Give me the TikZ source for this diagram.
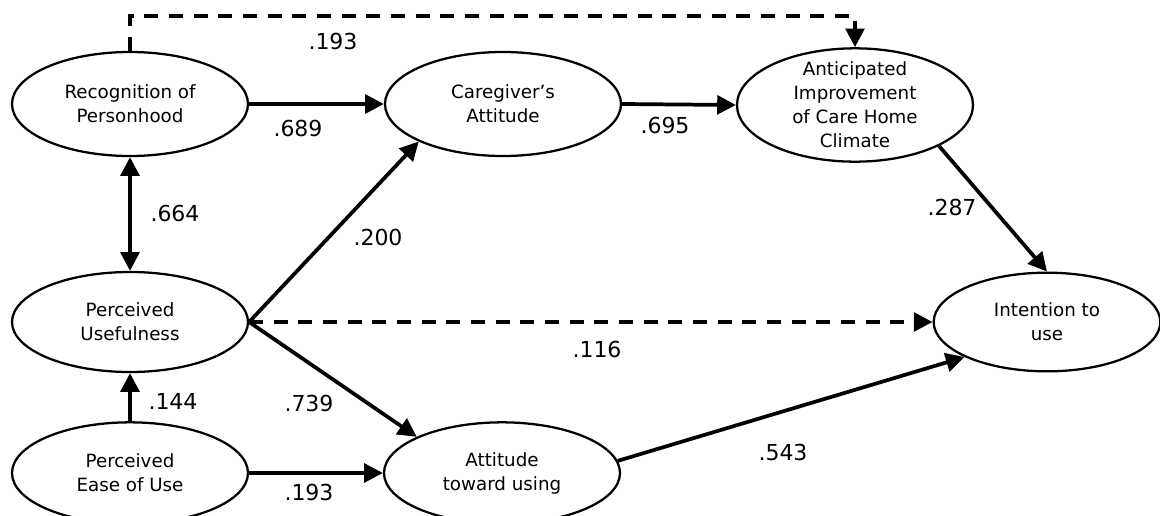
\documentclass[tikz,border=0pt]{standalone}
\usepackage{fontspec}
\setmainfont{DejaVu Sans}
\usetikzlibrary{shapes.geometric,arrows.meta}
\begin{document}
\begin{tikzpicture}[x=0.75pt,y=-0.75pt,
  ell/.style={draw,ellipse,line width=1.7pt,inner sep=0pt,minimum width=177pt,minimum height=78pt},
  txt/.style={align=center,font=\fontsize{13.7}{18}\selectfont,inner sep=0pt},
  coef/.style={font=\fontsize{16.5}{20}\selectfont,inner sep=0pt},
  tip/.tip={Triangle[length=14pt,width=14pt]},
  conn/.style={line width=2.8pt,-tip},
  dconn/.style={conn,dash pattern=on 10.5pt off 8pt}]
\useasboundingbox (0,0) rectangle (1160,515);
% nodes
\node[ell] (rec) at (130,104) {};
\node[txt] (rect) at (rec) {Recognition of\\Personhood};
\node[ell] (cg) at (503,104) {};
\node[txt] (cgt) at (cg) {Caregiver’s\\Attitude};
\node[ell,minimum height=85pt] (ant) at (855,105) {};
\node[txt] (antt) at (ant) {Anticipated\\Improvement\\of Care Home\\Climate};
\node[ell,minimum width=170pt,minimum height=74pt] (int) at (1047,322) {};
\node[txt] (intt) at (int) {Intention to\\use};
\node[ell,minimum height=75pt] (pu) at (130,322) {};
\node[txt] (put) at (pu) {Perceived\\Usefulness};
\node[ell,minimum height=76pt] (peu) at (130,473) {};
\node[txt] (peut) at (peu) {Perceived\\Ease of Use};
\node[ell,minimum height=76pt] (att) at (502,473) {};
\node[txt] (attt) at (att) {Attitude\\toward using};
% connectors
\coordinate (tl) at (130,16);
\coordinate (tr) at (855,16);
\draw[dconn] (rec.north) -- (tl) -- (tr) -- (ant.north);
\draw[conn] (rec.east) -- (cg.west);
\draw[conn] (cg.east) -- (ant.west);
\draw[conn,tip-tip] (rec.south) -- (pu.north);
\draw[conn] (pu.east) -- (cg.204);
\draw[dconn] (pu.east) -- (int.west);
\draw[conn] (pu.east) -- (att.157);
\draw[conn] (peu.north) -- (pu.south);
\draw[conn] (peu.east) -- (att.west);
\draw[conn] (att.6) -- (int.203.6);
\draw[conn] (ant.334) -- (int.north);
% coefficients
\node[coef] (c1) at (333,41) {.193};
\node[coef] (c2) at (298,128) {.689};
\node[coef] (c3) at (665,125) {.695};
\node[coef] (c4) at (175,213) {.664};
\node[coef] (c5) at (378,237) {.200};
\node[coef] (c6) at (952,207) {.287};
\node[coef] (c7) at (597,349) {.116};
\node[coef] (c8) at (173,401) {.144};
\node[coef] (c9) at (309,403) {.739};
\node[coef] (c10) at (309,492) {.193};
\node[coef] (c11) at (783,452) {.543};
\end{tikzpicture}
\end{document}
